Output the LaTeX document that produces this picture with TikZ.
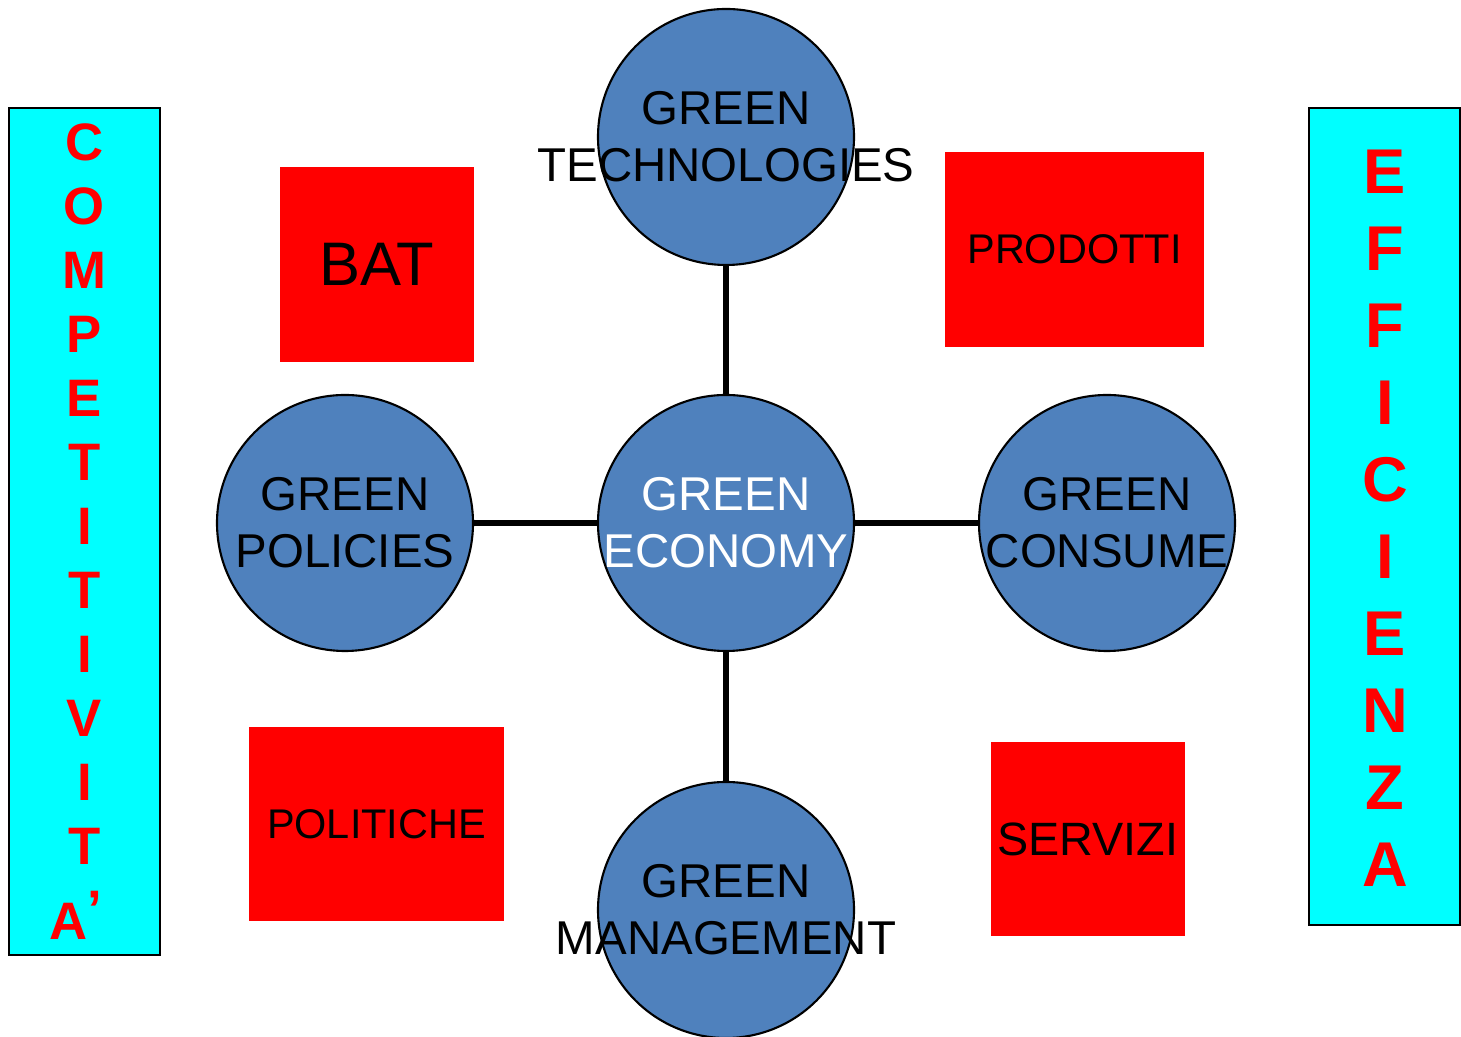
\documentclass[tikz,border=0pt]{standalone}
\usepackage{fontspec}
\setmainfont{Liberation Sans}
\definecolor{bubblue}{RGB}{79,129,189}
\definecolor{barcyan}{RGB}{0,255,255}
\definecolor{boxred}{RGB}{255,0,0}

\begin{document}
\begin{tikzpicture}[
    bubble/.style={circle,draw=black,line width=.6pt,fill=bubblue,minimum size=2.56cm,inner sep=0pt},
    bubtext/.style={align=center,inner sep=0pt,font=\fontsize{13.5pt}{16.3pt}\selectfont},
    redbox/.style={fill=boxred,inner sep=0pt},
    bar/.style={draw=black,line width=.75pt,fill=barcyan,minimum width=1.51cm,inner sep=0pt},
    barletters/.style={align=center,inner sep=0pt,anchor=north,text=boxred},
    link/.style={line width=1.7pt}
  ]
  \useasboundingbox (0,0) rectangle (14.61,10.37);
  %% side bars
  \node[bar,minimum height=8.47cm] (compbar) at (0.845,5.055) {};
  \node[bar,minimum height=8.17cm] (effbar) at (13.845,5.205) {};
  \node[barletters,font=\bfseries\fontsize{15pt}{0.64cm}\selectfont] (comptxt) at (0.845,9.14)
    {C\\O\\M\\P\\E\\T\\I\\T\\I\\V\\I\\T\\[0.11cm]A\raisebox{0.12cm}{’}\kern0.17cm\null};
  \node[barletters,font=\bfseries\fontsize{18pt}{0.77cm}\selectfont] (efftxt) at (13.85,8.88)
    {E\\F\\F\\I\\C\\I\\E\\N\\Z\\A};
  %% red boxes
  \node[redbox,minimum width=1.94cm,minimum height=1.95cm,font=\fontsize{17.5pt}{20pt}\selectfont] (bat) at (3.77,7.725) {BAT};
  \node[redbox,minimum width=2.59cm,minimum height=1.95cm,font=\fontsize{11.8pt}{14pt}\selectfont] (prod) at (10.745,7.875) {PRODOTTI};
  \node[redbox,minimum width=2.55cm,minimum height=1.94cm,font=\fontsize{11.8pt}{14pt}\selectfont] (polit) at (3.765,2.13) {POLITICHE};
  \node[redbox,minimum width=1.94cm,minimum height=1.94cm,font=\fontsize{13.3pt}{16pt}\selectfont] (serv) at (10.88,1.98) {SERVIZI};
  %% circles
  \node[bubble] (econ) at (7.26,5.14) {};   % centre
  \node[bubble] (tech) at (7.26,9.00) {};   % top
  \node[bubble] (mgmt) at (7.26,1.27) {};   % bottom
  \node[bubble] (pol)  at (3.45,5.14) {};   % left
  \node[bubble] (cons) at (11.07,5.14) {};  % right
  \draw[link] (econ) -- (tech);
  \draw[link] (econ) -- (mgmt);
  \draw[link] (econ) -- (pol);
  \draw[link] (econ) -- (cons);
  %% circle texts
  \node[bubtext,text=white] (econtxt) at (econ) {GREEN\\ECONOMY};
  \node[bubtext] (techtxt) at (tech) {GREEN\\TECHNOLOGIES};
  \node[bubtext] (mgmttxt) at (mgmt) {GREEN\\MANAGEMENT};
  \node[bubtext] (poltxt)  at (pol)  {GREEN\\POLICIES};
  \node[bubtext] (constxt) at (cons) {GREEN\\CONSUME};
\end{tikzpicture}
\end{document}
